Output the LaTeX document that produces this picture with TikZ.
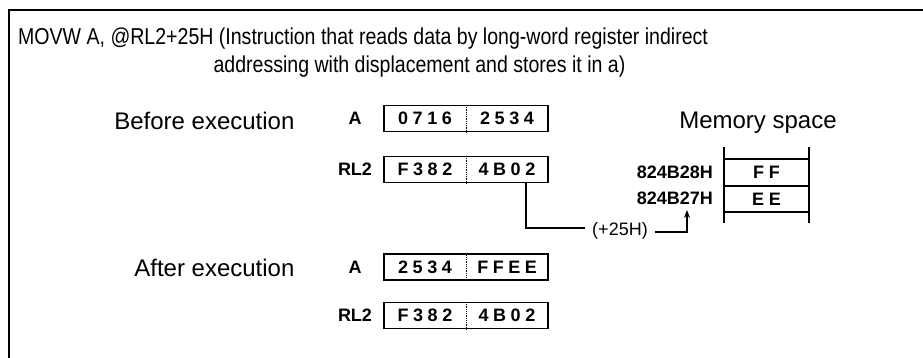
\documentclass[tikz,border=0pt]{standalone}
\usepackage{fontspec}
\setmainfont{Liberation Sans}
\newfontfamily\narrowfont[FakeStretch=0.85]{Liberation Sans}
\usetikzlibrary{arrows.meta}
\newcommand\spreadfour[4]{#1\kern4.5pt#2\kern4.5pt#3\kern4.5pt#4}

\begin{document}
\begin{tikzpicture}[x=1pt,y=-1pt,
  regbox/.style={draw,line width=1.1pt,minimum width=164pt,minimum height=26pt,inner sep=0pt},
  nibble/.style={font=\fontsize{18}{18}\selectfont\bfseries,inner sep=0pt},
  reglabel/.style={font=\fontsize{18}{18}\selectfont\bfseries},
  phase/.style={font=\fontsize{24}{24}\selectfont,anchor=east},
  addr/.style={font=\fontsize{18}{18}\selectfont\bfseries,anchor=east,inner sep=1pt},
  cell/.style={font=\fontsize{18}{18}\selectfont\bfseries,inner sep=0pt},
  wire/.style={line width=1.1pt}]
  \useasboundingbox (0,0) rectangle (923,358);
  \draw[line width=1.6pt] (9,358) -- (9,10) -- (923,10);
  \node[anchor=west,align=left,inner sep=0pt,font=\narrowfont\fontsize{23}{28}\selectfont] (title) at (18,53)
    {MOVW A, @RL2+25H (Instruction that reads data by long-word register indirect\\
     \hphantom{MOVW A, @RL2+25H}addressing with displacement and stores it in a)};
  \node[phase] (before) at (298,121) {Before execution};
  \node[phase] (after) at (298,268) {After execution};
  \foreach \n/\lbl/\y/\hi/\lo in {aB/A/118.5/0716/2534, rB/RL2/169.5/F382/4B02,
                                  aA/A/267/2534/FFEE, rA/RL2/315.5/F382/4B02} {
    \node[regbox] (\n) at (466,\y) {};
    \draw[densely dotted,line width=0.8pt] (\n.north) -- (\n.south);
    \node[nibble] (\n-hi) at ([xshift=-41pt]\n.center) {\expandafter\spreadfour\hi};
    \node[nibble] (\n-lo) at ([xshift=41pt]\n.center) {\expandafter\spreadfour\lo};
    \node[reglabel] (\n-lbl) at (355,\y) {\lbl};
  }
  \node[font=\fontsize{24}{24}\selectfont] (memtitle) at (758,123) {Memory space};
  \draw[wire] (724,147) -- (724,223) (809,147) -- (809,223);
  \foreach \y in {159,186,212}
    \draw[wire] (724,\y) -- (809,\y);
  \node[cell] (ff) at (766.5,172.5) {F F};
  \node[cell] (ee) at (766.5,199) {E E};
  \node[addr] (a28) at (714,172) {824B28H};
  \node[addr] (a27) at (714,198) {824B27H};
  \node[font=\fontsize{18}{18}\selectfont,inner xsep=7pt] (disp) at (620,231) {(+25H)};
  \coordinate (tip) at (687,210);
  \draw[wire] ([xshift=60pt]rB.south) |- ([yshift=3pt]disp.west);
  \draw[wire,-{Stealth[length=8pt,width=6pt]}] ([yshift=-1pt]disp.east) -| (tip);
\end{tikzpicture}
\end{document}
